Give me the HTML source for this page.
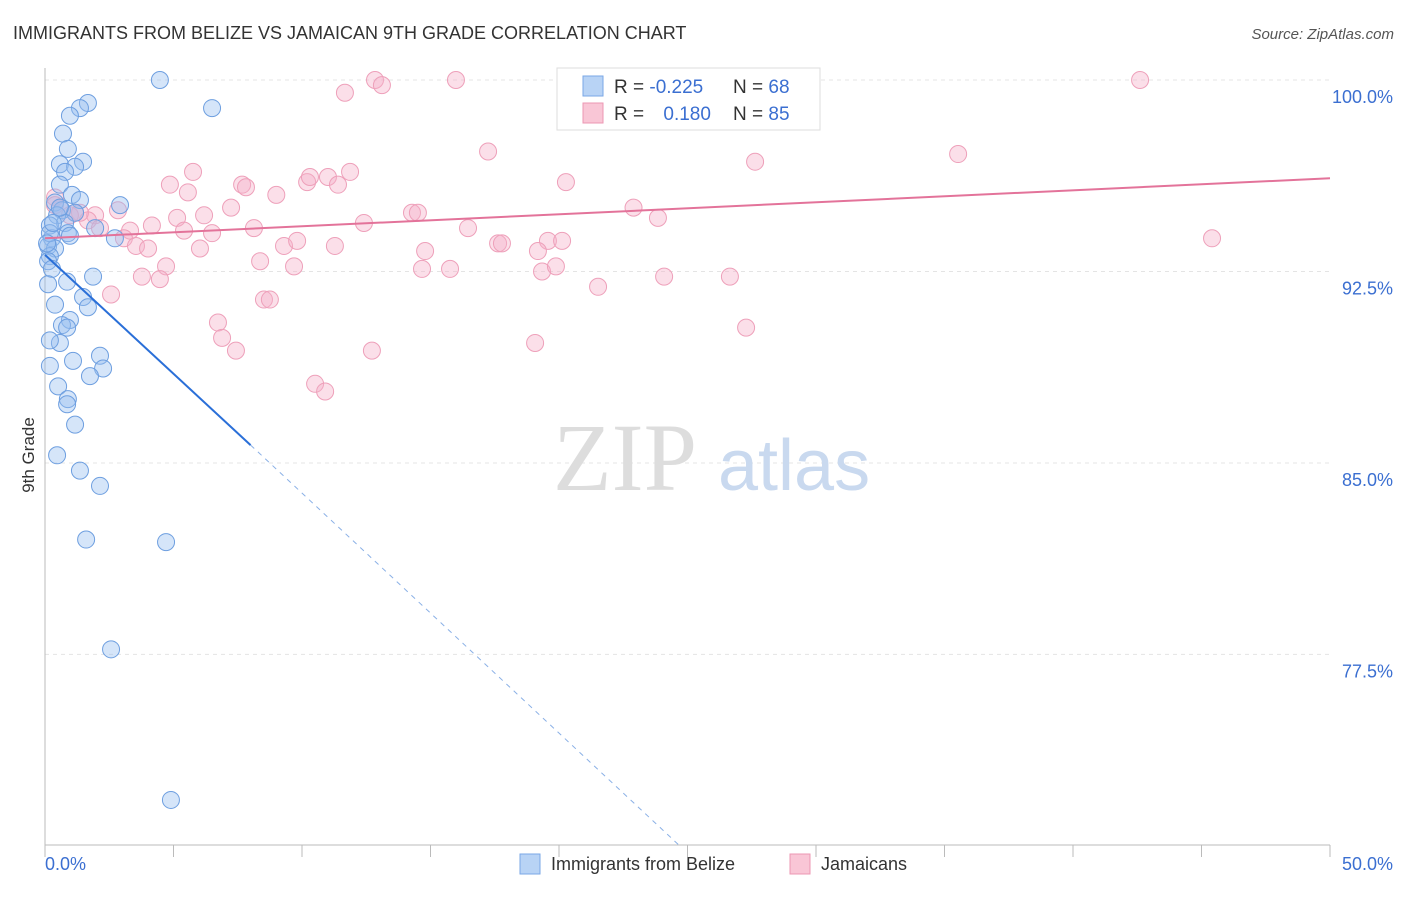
<!DOCTYPE html>
<html><head><meta charset="utf-8"><style>
body{margin:0;background:#fff;font-family:"Liberation Sans",sans-serif}
</style></head><body>
<svg id="chart" width="1406" height="892" xmlns="http://www.w3.org/2000/svg" font-family="Liberation Sans, sans-serif">
<text x="13" y="39" font-size="18" fill="#333">IMMIGRANTS FROM BELIZE VS JAMAICAN 9TH GRADE CORRELATION CHART</text>
<text x="1394" y="39" font-size="15" fill="#555" text-anchor="end" font-style="italic">Source: ZipAtlas.com</text>
<g id="grid"></g>
<text x="553" y="490" font-size="96" fill="#ddd" font-family="Liberation Serif, serif">ZIP</text>
<text x="718" y="490" font-size="72" fill="#c9d9ef">atlas</text>
<g id="marks"></g>
<text transform="translate(34,455) rotate(-90)" font-size="17" fill="#333" text-anchor="middle">9th Grade</text>
<g>
<rect x="557" y="68" width="263" height="62" fill="#fff" stroke="#ddd"/>
<rect x="583" y="76" width="20" height="20" fill="#b8d3f5" stroke="#7aa7e6"/>
<rect x="583" y="103" width="20" height="20" fill="#f9c6d6" stroke="#ec97b3"/>
<text x="614" y="93" font-size="19" fill="#333">R = <tspan fill="#3b6fd1">-0.225</tspan></text>
<text x="733" y="93" font-size="19" fill="#333">N = <tspan fill="#3b6fd1">68</tspan></text>
<text x="614" y="120" font-size="19" fill="#333">R = <tspan fill="#3b6fd1" dx="14">0.180</tspan></text>
<text x="733" y="120" font-size="19" fill="#333">N = <tspan fill="#3b6fd1">85</tspan></text>
</g>
<g>
<rect x="520" y="854" width="20" height="20" fill="#b8d3f5" stroke="#7aa7e6"/>
<text x="551" y="870" font-size="18" fill="#333">Immigrants from Belize</text>
<rect x="790" y="854" width="20" height="20" fill="#f9c6d6" stroke="#ec97b3"/>
<text x="821" y="870" font-size="18" fill="#333">Jamaicans</text>
</g>
</svg>
<script>
const yTicks=[100,92.5,85,77.5];
const yTickLabels=["100.0%","92.5%","85.0%","77.5%"];
const xTickLabels=["0.0%","50.0%"];
const belizeX=[4.47,6.5,1.67,1.36,0.97,0.7,0.89,0.58,1.48,1.17,0.78,0.58,1.05,1.36,0.39,2.92,0.66,1.17,0.47,0.78,1.95,0.89,0.97,0.19,0.27,2.72,0.12,0.39,0.19,0.12,0.27,1.87,0.86,0.12,1.48,0.39,1.67,0.97,0.66,0.86,0.58,0.19,2.14,1.09,2.26,0.19,1.75,0.51,0.89,0.86,1.17,0.47,1.36,2.14,1.6,4.71,2.57,4.9,0.19,0.08,0.58,0.31];
const belizeY=[100,98.9,99.1,98.9,98.6,97.9,97.3,96.7,96.8,96.6,96.4,95.9,95.5,95.3,95.2,95.1,94.9,94.8,94.7,94.4,94.2,94.0,93.9,94.3,93.8,93.8,93.5,93.4,93.1,92.9,92.6,92.3,92.1,92.0,91.5,91.2,91.1,90.6,90.4,90.3,89.7,89.8,89.2,89.0,88.7,88.8,88.4,88.0,87.5,87.3,86.5,85.3,84.7,84.1,82.0,81.9,77.7,71.8,94.0,93.6,95.0,94.4];
const jamX=[12.84,15.99,26.54,42.61,11.67,13.11,17.24,27.63,35.53,5.76,4.86,5.56,7.67,7.82,9.0,10.2,10.31,11.01,11.4,11.87,20.27,22.9,23.85,7.24,6.19,5.14,2.84,1.95,1.67,1.36,0.97,0.39,0.39,4.16,3.31,5.41,6.5,8.13,3.07,3.54,4.01,6.03,9.3,9.81,11.28,12.41,14.28,14.51,16.46,14.79,17.63,17.78,19.57,20.12,19.18,4.71,8.37,9.69,14.67,15.76,19.34,19.88,24.09,26.65,4.47,3.77,2.57,8.52,8.75,21.52,6.73,6.89,7.43,12.72,19.07,27.28,10.51,10.9,45.41,0.58,1.17,2.14];
const jamY=[100,100,100,100,99.5,99.8,97.2,96.8,97.1,96.4,95.9,95.6,95.9,95.8,95.5,96.0,96.2,96.2,95.9,96.4,96.0,95.0,94.6,95.0,94.7,94.6,94.9,94.7,94.5,94.8,94.7,95.4,95.1,94.3,94.1,94.1,94.0,94.2,93.8,93.5,93.4,93.4,93.5,93.7,93.5,94.4,94.8,94.8,94.2,93.3,93.6,93.6,93.7,93.7,93.3,92.7,92.9,92.7,92.6,92.6,92.5,92.7,92.3,92.3,92.2,92.3,91.6,91.4,91.4,91.9,90.5,89.9,89.4,89.4,89.7,90.3,88.1,87.8,93.8,95.0,94.8,94.2];
const belizeLine=[[0,93.15],[8,85.7],[24.7,70]];
const jamLine=[[0,93.8],[50,96.15]];
const X=v=>45+v*1285/50, Y=v=>80+(100-v)*25.53;
const NS='http://www.w3.org/2000/svg';
const grid=document.getElementById('grid'), marks=document.getElementById('marks'), svg=document.getElementById('chart');
function mk(tag,at,parent){const e=document.createElementNS(NS,tag);for(const k in at)e.setAttribute(k,at[k]);parent.appendChild(e);return e;}
yTicks.forEach((t,i)=>{
 const l=mk('line',{x1:45,x2:1330,y1:Y(t),y2:Y(t),stroke:'#e4e4e4','stroke-dasharray':'4,4'},grid);
 
 
 const tx=mk('text',{x:1393,y:Y(t)+23,'font-size':18,fill:'#3b6fd1','text-anchor':'end'},grid);
 tx.textContent=yTickLabels[i];
 
 
});
const ax=mk('path',{d:`M45,68 V845 H1330`,stroke:'#bbb',fill:'none'},grid);


for(let i=0;i<=10;i++){const t=mk('line',{x1:X(i*5),x2:X(i*5),y1:845,y2:857,stroke:'#bbb'},grid);
 
 }
[[0,'start',45],[1,'end',1393]].forEach(([i,a,x])=>{const t=mk('text',{x:x,y:870,'font-size':18,fill:'#3b6fd1','text-anchor':a},grid);t.textContent=xTickLabels[i];
 
 });
jamX.forEach((v,i)=>{const c=mk('circle',{cx:X(v),cy:Y(jamY[i]),r:8.5,fill:'rgba(246,176,199,0.4)',stroke:'#eea0ba','stroke-width':1},marks);
 
 });
belizeX.forEach((v,i)=>{const c=mk('circle',{cx:X(v),cy:Y(belizeY[i]),r:8.5,fill:'rgba(150,190,240,0.4)',stroke:'#6e9fe0','stroke-width':1},marks);
 
 });
const b1=mk('line',{x1:X(belizeLine[0][0]),y1:Y(belizeLine[0][1]),x2:X(belizeLine[1][0]),y2:Y(belizeLine[1][1]),stroke:'#2a6fd8','stroke-width':2},marks);


const b2=mk('line',{x1:X(belizeLine[1][0]),y1:Y(belizeLine[1][1]),x2:X(belizeLine[2][0]),y2:Y(belizeLine[2][1]),stroke:'#8ab0e6','stroke-width':1,'stroke-dasharray':'5,5'},marks);


const j1=mk('line',{x1:X(jamLine[0][0]),y1:Y(jamLine[0][1]),x2:X(jamLine[1][0]),y2:Y(jamLine[1][1]),stroke:'#e3739a','stroke-width':2},marks);


</script>
</body></html>
